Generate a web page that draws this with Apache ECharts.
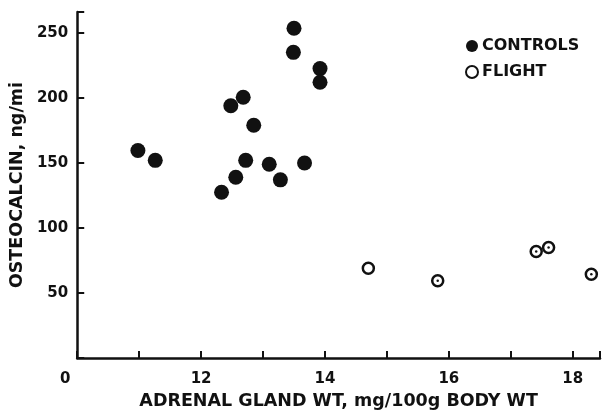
<!DOCTYPE html>
<html><head><meta charset="utf-8">
<script src="https://cdn.jsdelivr.net/npm/echarts@6/dist/echarts.min.js"></script>
<style>html,body{margin:0;padding:0;background:#fff}#c{width:603px;height:415px}</style>
</head><body><div id="c"></div>
<script>
const controlsX = [10.98, 11.26, 12.48, 12.68, 12.85, 12.72, 12.56, 12.33, 13.10, 13.28, 13.50, 13.49, 13.92, 13.92, 13.67];
const controlsY = [159.5, 152, 194, 200.5, 179, 152, 139, 127.5, 149, 137, 253.5, 235, 222.5, 212, 150];
const flightX = [14.70, 15.82, 17.41, 17.61, 18.30];
const flightY = [69, 59.5, 82, 85, 64.5];
const flightDotted = [false, true, true, true, true];
const xTickLabels = {10: '0', 12: '12', 14: '14', 16: '16', 18: '18'};
const yTickLabels = [50, 100, 150, 200, 250];

const FONT = 'DejaVu Sans';
const ink = '#111';
const controls = controlsX.map((x, i) => [x, controlsY[i]]);
const flight = flightX.map((x, i) => [x, flightY[i]]);
const dots = flight.filter((p, i) => flightDotted[i]);

const chart = echarts.init(document.getElementById('c'));
chart.setOption({
  animation: false,
  backgroundColor: '#fff',
  grid: {left: 77, right: 2, top: 12, bottom: 56},
  legend: {
    orient: 'vertical', left: 460, top: 33, itemGap: 10,
    itemWidth: 12, itemHeight: 12,
    textStyle: {fontFamily: FONT, fontWeight: 'bold', fontSize: 16, color: ink, padding: [0, 0, 0, -1]},
    data: [
      {name: 'CONTROLS', icon: 'circle', itemStyle: {color: ink, borderWidth: 0}},
      {name: 'FLIGHT', icon: 'circle', itemStyle: {color: '#fff', borderColor: ink, borderWidth: 2}}
    ]
  },
  xAxis: {
    type: 'value', min: 10, max: 18.44, interval: 1,
    name: 'ADRENAL GLAND WT, mg/100g BODY WT', nameLocation: 'middle', nameGap: 32,
    nameTextStyle: {fontFamily: FONT, fontWeight: 'bold', fontSize: 17.5, color: ink},
    axisLine: {lineStyle: {color: ink, width: 2.5}},
    axisTick: {inside: true, length: 7, lineStyle: {color: ink, width: 2}},
    splitLine: {show: false},
    axisLabel: {
      margin: 14, fontFamily: FONT, fontWeight: 'bold', fontSize: 15, color: ink,
      formatter: v => v === 10 ? '{z|0}' : (xTickLabels[v] || ''),
      rich: {z: {fontFamily: FONT, fontWeight: 'bold', fontSize: 15, color: ink, padding: [0, 24, 0, 0]}}
    }
  },
  yAxis: {
    type: 'value', min: 0, max: 266, interval: 50,
    name: 'OSTEOCALCIN, ng/mi', nameLocation: 'middle', nameGap: 44,
    nameTextStyle: {fontFamily: FONT, fontWeight: 'bold', fontSize: 17.5, color: ink},
    axisLine: {show: true, lineStyle: {color: ink, width: 2.5}},
    axisTick: {show: true, inside: true, length: 7, lineStyle: {color: ink, width: 2}},
    splitLine: {show: false},
    axisLabel: {
      margin: 9, fontFamily: FONT, fontWeight: 'bold', fontSize: 15, color: ink,
      formatter: v => yTickLabels.includes(v) ? String(v) : ''
    }
  },
  series: [
    {name: 'CONTROLS', type: 'scatter', data: controls, symbol: 'circle', symbolSize: 15,
     itemStyle: {color: ink, opacity: 1}},
    {name: 'FLIGHT', type: 'scatter', data: flight, symbol: 'circle', symbolSize: 11,
     itemStyle: {color: '#fff', borderColor: ink, borderWidth: 2.5, opacity: 1}},
    {name: 'flightDot', type: 'scatter', data: dots, symbol: 'circle', symbolSize: 2.5,
     itemStyle: {color: ink, opacity: 1}, silent: true}
  ]
});
</script></body></html>
